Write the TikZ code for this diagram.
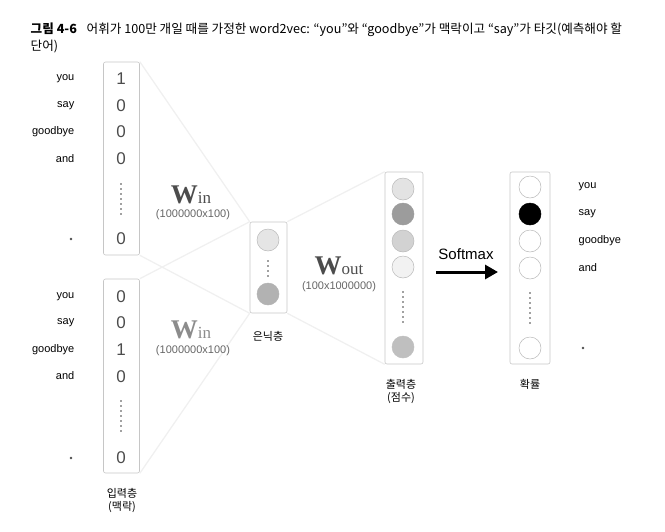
\documentclass[tikz,border=0pt]{standalone}
\usepackage{fontspec}
\setmainfont{Liberation Sans}
\newfontfamily\krfont{Noto Sans CJK KR}
\newfontfamily\wfont{Liberation Serif}
\usetikzlibrary{arrows.meta}

\tikzset{
  vecbox/.style={draw=gray!45, rounded corners=2pt, line width=0.6pt, inner sep=0pt},
  link/.style={draw=gray!12, line width=1.3pt},
  cell/.style={circle, draw=gray!55, line width=0.5pt, minimum size=22pt, inner sep=0pt},
  num/.style={font=\fontsize{17}{17}\selectfont, text=black!70},
  word/.style={font=\fontsize{11}{12}\selectfont, anchor=east},
  pword/.style={font=\fontsize{11}{12}\selectfont, anchor=west},
  wdim/.style={font=\fontsize{11}{12}\selectfont, text=black!60},
  wname/.style={anchor=base, inner sep=0pt},
  kr/.style={font=\krfont\fontsize{11}{13}\selectfont, align=center},
  vdots/.style={line width=1.6pt, line cap=round, dash pattern=on 0pt off 5pt, draw=black!75},
}

\begin{document}
\begin{tikzpicture}[x=1pt,y=-1pt,inner sep=0.5pt]
\useasboundingbox (0,0) rectangle (665,531);

% title
\node[anchor=base west, font=\krfont\bfseries\fontsize{12.6}{15}\selectfont] (tt) at (30,33) {그림 4-6};
\node[anchor=base west, font=\krfont\fontsize{12.6}{15}\selectfont] (ta) at (86,33) {어휘가 100만 개일 때를 가정한 word2vec: “you”와 “goodbye”가 맥락이고 “say”가 타깃(예측해야 할};
\node[anchor=base west, font=\krfont\fontsize{12.6}{15}\selectfont] (tb) at (30,50) {단어)};

% boxes
\node[vecbox, minimum width=36pt, minimum height=193pt] (in1) at (121.5,158.5) {};
\node[vecbox, minimum width=36pt, minimum height=194pt] (in2) at (121.5,376) {};
\node[vecbox, minimum width=37pt, minimum height=91pt] (hid) at (268.5,267.5) {};
\node[vecbox, minimum width=38pt, minimum height=192pt] (out) at (404,268) {};
\node[vecbox, minimum width=40pt, minimum height=192pt] (prob) at (530,268) {};

% weights
\draw[link] (in1.north east) -- (hid.north west);
\draw[link] (in1.south east) -- (hid.south west);
\draw[link] (in2.north east) -- (hid.north west);
\draw[link] (in2.south east) -- (hid.south west);
\draw[link] (hid.north east) -- (out.north west);
\draw[link] (hid.south east) -- (out.south west);

% context 1
\node[word] (w1) at (75,79) {you};
\node[word] (w2) at (75,106) {say};
\node[word] (w3) at (75,132) {goodbye};
\node[word] (w4) at (75,159) {and};
\node[circle, fill=black!70, minimum size=2.8pt, inner sep=0pt] (w5) at (71,239) {};

\node[num] (a1) at (121,79) {1};
\node[num] (a2) at (121,106) {0};
\node[num] (a3) at (121,132) {0};
\node[num] (a4) at (121,159) {0};
\node[num] (a5) at (121,239) {0};
\draw[vdots] (121,184) -- (121,216);

% context 2
\node[word] (v1) at (75,297) {you};
\node[word] (v2) at (75,323) {say};
\node[word] (v3) at (75,350) {goodbye};
\node[word] (v4) at (75,376) {and};
\node[circle, fill=black!70, minimum size=2.8pt, inner sep=0pt] (v5) at (71,458) {};

\node[num] (b1) at (121,297) {0};
\node[num] (b2) at (121,323) {0};
\node[num] (b3) at (121,350) {1};
\node[num] (b4) at (121,377) {0};
\node[num] (b5) at (121,458) {0};
\draw[vdots] (121,401) -- (121,433);

\node[kr] (lin) at (122,501) {입력층\\(맥락)};

% W_in labels
\node[wname, text=black!70] (win1) at (191,203) {\wfont\fontsize{27}{27}\selectfont\textbf{W}\fontsize{17}{17}\selectfont in};
\node[wdim] (din1) at (193,215) {(1000000x100)};
\node[wname, text=black!45] (win2) at (191,338) {\wfont\fontsize{27}{27}\selectfont\textbf{W}\fontsize{17}{17}\selectfont in};
\node[wdim] (din2) at (193,351) {(1000000x100)};

% hidden
\node[cell, fill=gray!20] (h1) at (268,240) {};
\draw[vdots] (268,261) -- (268,276);
\node[cell, fill=gray!60, draw=gray!60] (h2) at (268,294) {};
\node[kr] (lhid) at (268,336) {은닉층};

% W_out label
\node[wname, text=black!70] (wout) at (339,274) {\wfont\fontsize{27}{27}\selectfont\textbf{W}\fontsize{17}{17}\selectfont out};
\node[wdim] (dout) at (339,287) {(100x1000000)};

% scores
\node[cell, fill=gray!22] (s1) at (403,189) {};
\node[cell, fill=gray!78, draw=gray!78] (s2) at (403,214) {};
\node[cell, fill=gray!35] (s3) at (403,241) {};
\node[cell, fill=gray!10] (s4) at (403,267) {};
\draw[vdots] (403,292) -- (403,326);
\node[cell, fill=gray!50, draw=gray!50] (s5) at (403,347) {};
\node[kr] (lout) at (401,391) {출력층\\(점수)};

% softmax
\coordinate (sa) at (436,272);
\coordinate (sb) at (498,272);
\node[font=\fontsize{15}{16}\selectfont] (smax) at (466,254) {Softmax};
\draw[line width=3pt, -{Triangle[length=13pt,width=14pt]}] (sa) -- (sb);

% probabilities
\node[cell, fill=white] (p1) at (530,187) {};
\node[cell, fill=black, draw=black] (p2) at (530,214) {};
\node[cell, fill=white] (p3) at (530,241) {};
\node[cell, fill=white] (p4) at (530,268) {};
\draw[vdots] (530,293) -- (530,326);
\node[cell, fill=white] (p5) at (530,348) {};
\node[kr] (lprob) at (530,384) {확률};

\node[pword] (q1) at (578,187) {you};
\node[pword] (q2) at (578,214) {say};
\node[pword] (q3) at (578,241) {goodbye};
\node[pword] (q4) at (578,268) {and};
\node[circle, fill=black!70, minimum size=2.8pt, inner sep=0pt] (q5) at (583,348) {};

\end{tikzpicture}
\end{document}
